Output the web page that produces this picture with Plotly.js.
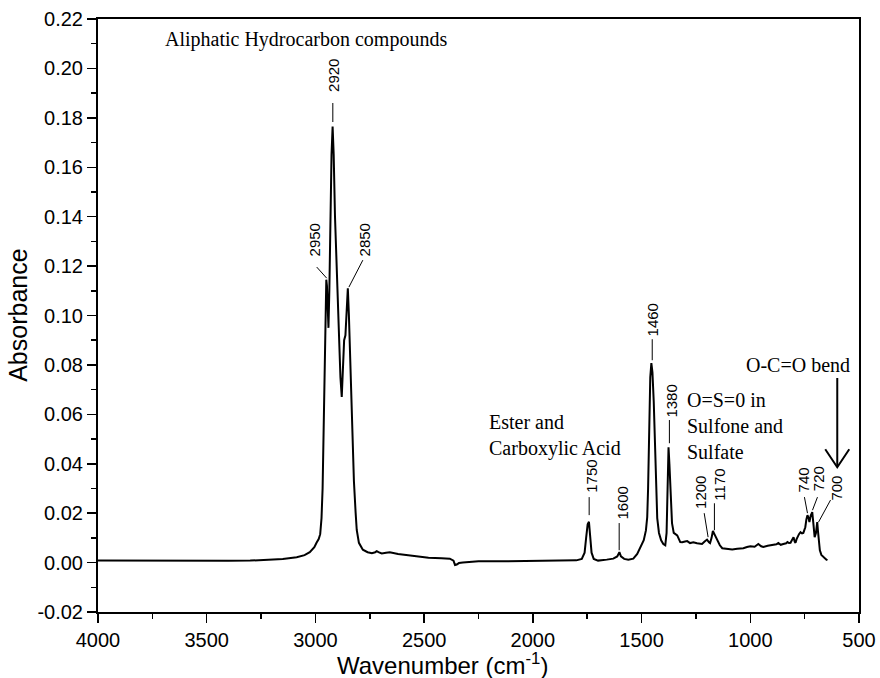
<!DOCTYPE html>
<html>
<head>
<meta charset="utf-8">
<script src="https://cdn.plot.ly/plotly-3.0.1.min.js"></script>
<style>html,body{margin:0;padding:0;background:#fff}#chart{width:880px;height:678px}</style>
</head>
<body>
<div id="chart"></div>
<script>
// Wavenumber (cm^-1)
const wavenumber = [4000,3800,3600,3500,3400,3300,3210,3150,3086,3050,3026,3005,2995,2985,2978,2972,2967,2962,2957,2953,2950,2947,2943,2940,2936,2932,2926,2921,2916,2910,2900,2892,2885,2879,2874,2868,2862,2856,2851,2846,2840,2833,2823,2815,2810,2800,2782,2760,2740,2725,2718,2710,2695,2675,2658,2620,2580,2534,2480,2420,2382,2365,2358,2350,2340,2322,2300,2250,2150,2050,1950,1850,1800,1775,1762,1755,1748,1742,1736,1730,1720,1700,1660,1630,1612,1602,1595,1580,1561,1538,1520,1506,1490,1480,1474,1470,1465,1460,1455,1450,1444,1437,1432,1428,1420,1410,1400,1391,1385,1380,1376,1372,1366,1360,1352,1345,1336,1322,1313,1300,1290,1277,1262,1245,1222,1210,1199,1190,1185,1178,1172,1165,1153,1140,1129,1100,1083,1060,1032,1015,1000,980,963,950,940,920,894,880,871,860,848,835,829,822,815,808,801,796,792,787,783,776,769,762,756,751,747,742,737,732,728,722,715,710,704,698,692,689,686,680,673,660,650,645];
// Absorbance
const absorbance = [0.0008,0.0007,0.0006,0.0006,0.0007,0.0008,0.0012,0.0015,0.0022,0.003,0.0042,0.0062,0.008,0.0095,0.0115,0.018,0.03,0.055,0.08,0.105,0.1145,0.112,0.1,0.095,0.11,0.14,0.165,0.1765,0.165,0.14,0.112,0.09,0.075,0.067,0.075,0.09,0.092,0.1,0.111,0.1,0.08,0.059,0.033,0.02,0.0132,0.008,0.0052,0.0042,0.0038,0.0042,0.0046,0.0042,0.0037,0.004,0.0042,0.0035,0.003,0.0025,0.002,0.0018,0.0016,0.0008,-0.001,-0.0008,-0.0002,0.0,0.0002,0.0005,0.0005,0.0006,0.0006,0.0008,0.0009,0.0015,0.004,0.01,0.0155,0.0165,0.01,0.004,0.0015,0.0008,0.0012,0.0016,0.0025,0.0042,0.0025,0.0015,0.0012,0.0016,0.0035,0.0063,0.0091,0.013,0.0184,0.03,0.059,0.075,0.0807,0.077,0.065,0.0455,0.03,0.018,0.012,0.009,0.0075,0.007,0.012,0.03,0.0467,0.04,0.025,0.016,0.012,0.0115,0.011,0.0083,0.0082,0.0085,0.0087,0.0079,0.0082,0.0078,0.0075,0.0085,0.0093,0.0082,0.0079,0.01,0.0128,0.0115,0.0091,0.007,0.0058,0.0054,0.0053,0.0056,0.0058,0.0063,0.0066,0.0064,0.0075,0.0066,0.0063,0.0068,0.007,0.0074,0.0079,0.0072,0.0075,0.0078,0.0083,0.0079,0.008,0.0095,0.0103,0.0085,0.008,0.0095,0.0103,0.0115,0.0123,0.0118,0.012,0.0135,0.0143,0.0175,0.0192,0.018,0.0164,0.019,0.0204,0.016,0.0103,0.012,0.0164,0.013,0.0091,0.005,0.0031,0.0018,0.0012,0.001];

const xTickVals = [4000,3500,3000,2500,2000,1500,1000,500];
const yTickVals = [-0.02,0.00,0.02,0.04,0.06,0.08,0.10,0.12,0.14,0.16,0.18,0.20,0.22];
const yTickText = ['-0.02','0.00','0.02','0.04','0.06','0.08','0.10','0.12','0.14','0.16','0.18','0.20','0.22'];

// Peak labels: text, label position, leader start, leader end
const peakLabels = ['2920','2950','2850','1460','1380','1750','1600','1200','1170','740','720','700'];
const peakLabelX = [2920,3003,2773,1451,1363,1732,1589,1230,1142,756,686,604];
const peakLabelY = [0.1973,0.1307,0.1307,0.0981,0.0653,0.0348,0.024,0.0283,0.0317,0.0334,0.034,0.0301];
const leadX0 = [2920,2994,2782,1451,1372,1741,1603,1212,1165,751,691,631];
const leadY0 = [0.186,0.1196,0.1224,0.0904,0.0577,0.0265,0.016,0.020,0.024,0.0265,0.0265,0.0253];
const leadX1 = [2920,2948,2846,1451,1372,1741,1603,1194,1165,737,714,686];
const leadY1 = [0.1783,0.1151,0.1115,0.0819,0.0483,0.0192,0.005,0.0103,0.0131,0.020,0.0212,0.0164];

const serif = 'Liberation Serif, Times New Roman, serif';
const sans = 'Liberation Sans, Arial, sans-serif';

const annotations = peakLabels.map((t,i)=>({
  x: peakLabelX[i], y: peakLabelY[i], xref:'x', yref:'y', text:t, showarrow:false,
  textangle:-90, font:{family:sans,size:15,color:'#000'}, xanchor:'center', yanchor:'middle'
}));
annotations.push(
  {x:3703,y:0.2119,xref:'x',yref:'y',text:'Aliphatic Hydrocarbon compounds',showarrow:false,xanchor:'left',yanchor:'middle',font:{family:serif,size:20,color:'#000'}},
  {x:2211,y:0.0516,xref:'x',yref:'y',text:'Ester and<br>Carboxylic Acid',showarrow:false,xanchor:'left',yanchor:'middle',align:'left',font:{family:serif,size:20,color:'#000'}},
  {x:1299,y:0.0552,xref:'x',yref:'y',text:'O=S=0 in<br>Sulfone and<br>Sulfate',showarrow:false,xanchor:'left',yanchor:'middle',align:'left',font:{family:serif,size:20,color:'#000'}},
  {x:530,y:0.080,xref:'x',yref:'y',text:'O-C=O bend',showarrow:false,xanchor:'right',yanchor:'middle',font:{family:serif,size:20,color:'#000'}},
  {x:0.453,y:-0.088,xref:'paper',yref:'paper',text:'Wavenumber (cm<sup>-1</sup>)',showarrow:false,xanchor:'center',yanchor:'middle',font:{family:sans,size:24,color:'#000'}},
  {x:-0.106,y:0.5,xref:'paper',yref:'paper',text:'Absorbance',textangle:-90,showarrow:false,xanchor:'center',yanchor:'middle',font:{family:sans,size:25,color:'#000'}}
);

const shapes = peakLabels.map((t,i)=>({
  type:'line', xref:'x', yref:'y', x0:leadX0[i], y0:leadY0[i], x1:leadX1[i], y1:leadY1[i],
  line:{color:'#000',width:1}
}));
// O-C=O bend arrow: shaft plus open V head
shapes.push(
  {type:'line', xref:'x', yref:'y', x0:600, y0:0.0747, x1:600, y1:0.0390, line:{color:'#000',width:2}},
  {type:'path', xref:'x', yref:'y', xsizemode:'pixel', ysizemode:'pixel', xanchor:600, yanchor:0.0386,
   path:'M-12,18 L0,0 L12,18', line:{color:'#000',width:2}}
);

const trace = {
  x: wavenumber, y: absorbance, type:'scatter', mode:'lines',
  line:{color:'#000',width:2}, hoverinfo:'x+y', showlegend:false
};

const axisCommon = {
  showline:true, linecolor:'#000', linewidth:2, mirror:true, ticks:'outside',
  ticklen:9, tickwidth:1.5, tickcolor:'#000', showgrid:false, zeroline:false,
  tickfont:{family:sans,size:20,color:'#000'}
};

const layout = {
  width:880, height:678,
  margin:{l:98,r:21,t:19,b:66},
  paper_bgcolor:'#fff', plot_bgcolor:'#fff',
  showlegend:false,
  xaxis: Object.assign({}, axisCommon, {
    range:[4000,500], tickmode:'array', tickvals:xTickVals,
    minor:{dtick:250, ticks:'outside', ticklen:5, tickwidth:1.5, tickcolor:'#000'}
  }),
  yaxis: Object.assign({}, axisCommon, {
    range:[-0.02,0.22], tickmode:'array', tickvals:yTickVals, ticktext:yTickText,
    minor:{dtick:0.01, ticks:'outside', ticklen:5, tickwidth:1.5, tickcolor:'#000'}
  }),
  annotations: annotations,
  shapes: shapes
};

Plotly.newPlot('chart',[trace],layout,{displayModeBar:false,staticPlot:true});
</script>
</body>
</html>
